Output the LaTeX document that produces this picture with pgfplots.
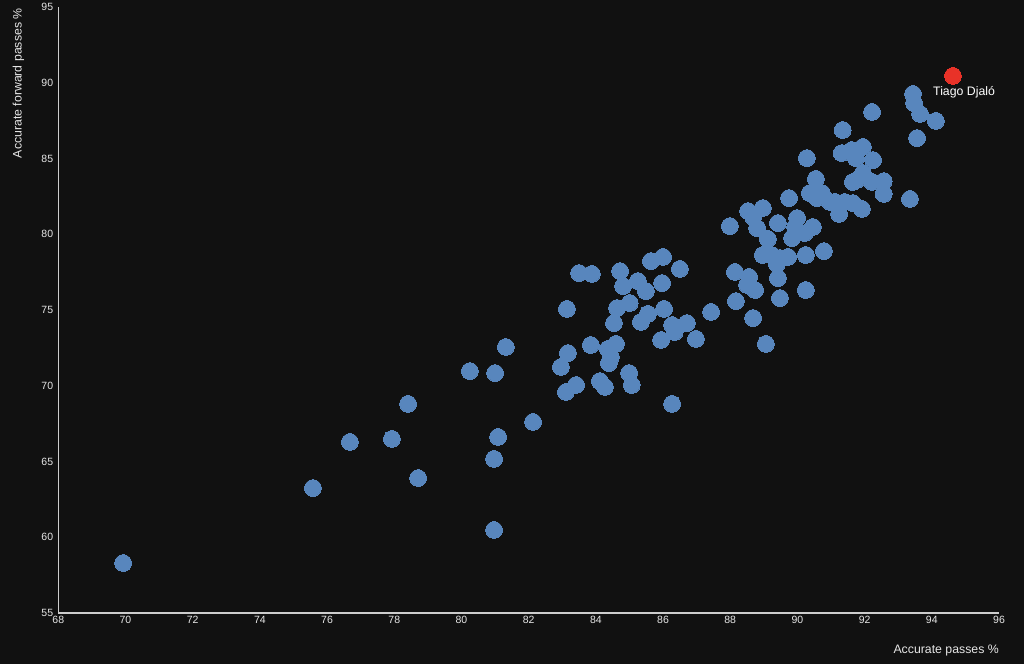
\documentclass[border=0pt]{standalone}
\usepackage{pgfplots}
\pgfplotsset{compat=1.18}
\usepackage{fontspec}
\setmainfont{Liberation Sans}
\definecolor{bgc}{RGB}{17,17,17}
\definecolor{blu}{RGB}{88,134,189}
\definecolor{red1}{RGB}{232,50,40}
\definecolor{axc}{RGB}{205,205,205}
\definecolor{txt}{RGB}{230,230,230}
\begin{document}
\begin{tikzpicture}
\fill[bgc] (0,0) rectangle (1024pt,664pt);
\useasboundingbox (0,0) rectangle (1024pt,664pt);
\begin{axis}[
  at={(58.3pt,51pt)}, anchor=south west,
  width=940.7pt, height=606pt, scale only axis,
  xmin=68, xmax=96, ymin=55, ymax=95,
  enlargelimits=false,
  xtick={68,70,...,96}, ytick={55,60,...,95},
  axis x line=bottom, axis y line=left,
  axis line style={-, draw=axc, line width=1.2pt},
  every outer x axis line/.append style={-},
  every outer y axis line/.append style={-},
  major tick length=0pt, tick style={draw=none},
  /pgf/number format/assume math mode=true,
  tick label style={font=\fontsize{10.5}{12}\selectfont, text=txt},
  xticklabel style={anchor=north, inner sep=0pt, yshift=-3pt},
  yticklabel style={anchor=east, inner sep=0pt, xshift=-5pt},
  xlabel={Accurate passes \%},
  ylabel={Accurate forward passes \%},
  label style={font=\fontsize{12.3}{14}\selectfont, text=txt},
  xlabel style={at={(axis description cs:1,-0.0627)}, anchor=east, inner sep=0pt},
  ylabel style={at={(axis description cs:-0.0425,0.998)}, anchor=east, inner sep=0pt},
  clip=false,
]
\addplot[only marks, draw=blu, fill=blu, mark=*, mark size=8.4pt, mark options={fill=blu, draw=blu, line width=0pt}] coordinates {
(69.93,58.30) (75.58,63.25) (76.68,66.29) (77.93,66.49) (78.41,68.80)
(78.71,63.91) (80.25,70.97) (81.00,70.84) (81.09,66.62) (80.97,65.17)
(80.97,60.48) (81.32,72.56) (82.13,67.61) (82.96,71.24) (83.11,69.59)
(83.17,72.16) (83.14,75.07) (83.41,70.05) (83.50,77.44) (83.88,77.38)
(83.85,72.69) (84.12,70.31) (84.27,69.92) (84.60,72.76) (84.36,72.43)
(84.45,71.90) (84.39,71.50) (84.54,74.14) (84.63,75.13) (85.01,75.46)
(84.72,77.57) (84.81,76.58) (85.25,76.91) (85.49,76.25) (84.99,70.84)
(85.07,70.05) (85.34,74.21) (85.55,74.74) (85.64,78.23) (86.00,78.50)
(85.97,76.78) (86.03,75.07) (85.94,73.02) (86.27,74.01) (86.35,73.55)
(86.71,74.14) (86.50,77.71) (86.98,73.09) (86.27,68.80) (87.43,74.87)
(87.99,80.54) (88.14,77.51) (88.17,75.59) (88.50,76.65) (88.56,77.18)
(88.74,76.32) (88.68,74.47) (89.06,72.76) (89.48,75.79) (89.42,77.11)
(90.25,76.32) (88.53,81.53) (88.97,81.73) (88.68,81.14) (88.80,80.41)
(89.12,79.69) (88.97,78.63) (89.24,78.63) (89.48,78.43) (89.72,78.50)
(89.39,78.04) (89.42,80.74) (89.99,81.07) (89.93,80.48) (90.46,80.48)
(90.22,80.08) (89.84,79.75) (90.25,78.63) (90.79,78.89) (89.75,82.39)
(90.37,82.72) (90.58,82.39) (90.28,85.03) (90.55,83.65) (90.73,82.72)
(90.97,82.13) (91.12,82.13) (91.24,81.34) (91.41,82.13) (91.65,82.06)
(91.92,81.67) (91.32,85.36) (91.62,85.56) (91.95,85.76) (91.74,85.03)
(92.25,84.90) (91.35,86.88) (91.95,84.04) (91.77,83.58) (91.65,83.45)
(92.22,83.45) (92.57,83.51) (92.57,82.66) (93.35,82.33) (92.22,88.07)
(93.44,89.26) (93.47,88.66) (93.65,87.94) (94.12,87.48) (93.56,86.35)
};
\addplot[only marks, draw=red1, fill=red1, mark=*, mark size=8.4pt, mark options={fill=red1, draw=red1, line width=0pt}] coordinates {
(94.63,90.45)
};
\node[anchor=center, text=white, font=\fontsize{12.3}{14}\selectfont, inner sep=0pt] at (axis cs:94.96,89.34) {Tiago Djaló};
\end{axis}
\end{tikzpicture}
\end{document}
